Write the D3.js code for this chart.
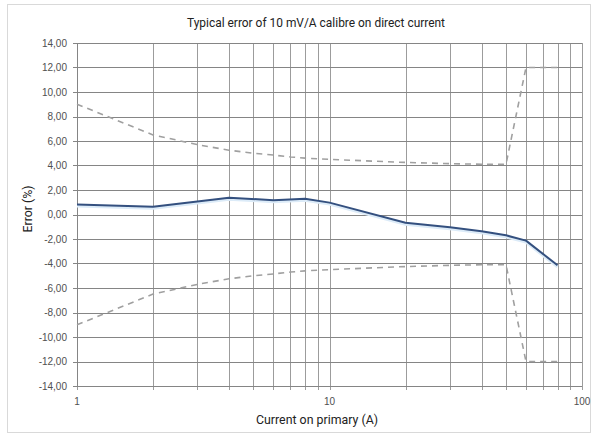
<!DOCTYPE html>
<html><head><meta charset="utf-8">
<script src="https://cdn.jsdelivr.net/npm/d3@7"></script>
<style>
html,body{margin:0;padding:0;background:#fff;}
svg{display:block;}
</style></head>
<body>
<svg id="c" width="595" height="434"></svg>
<script>
const title = "Typical error of 10 mV/A calibre on direct current";
const xTitle = "Current on primary (A)";
const yTitle = "Error (%)";
const measuredX = [1, 2, 4, 6, 8, 10, 20, 30, 40, 50, 60, 80];
const measuredY = [0.82, 0.63, 1.37, 1.17, 1.28, 0.97, -0.68, -1.05, -1.37, -1.7, -2.13, -4.15];
const limitX = [1, 2, 3, 4, 5, 6, 7, 8, 9, 10, 20, 30, 40, 50, 60, 80];
const upperLimit = [9, 6.5, 5.7, 5.25, 5, 4.85, 4.7, 4.6, 4.55, 4.5, 4.25, 4.15, 4.1, 4.1, 12, 12];
const lowerLimit = [-9, -6.5, -5.7, -5.25, -5, -4.85, -4.7, -4.6, -4.55, -4.5, -4.25, -4.15, -4.1, -4.1, -12, -12];
const yTicks = [-14, -12, -10, -8, -6, -4, -2, 0, 2, 4, 6, 8, 10, 12, 14];
const xTickLabels = [1, 10, 100];

const svg = d3.select("#c");
const L = 77, R = 582, T = 43, B = 386;
const x = d3.scaleLog().domain([1, 100]).range([L, R]);
const y = d3.scaleLinear().domain([-14, 14]).range([B, T]);

// outer frame
svg.append("rect").attr("x", 7.5).attr("y", 4.5).attr("width", 583).attr("height", 428)
  .attr("fill", "#fff").attr("stroke", "#d9d9d9");

// vertical grid (log minors)
const vTicks = x.ticks(20);
svg.append("g").selectAll("line").data(vTicks).join("line")
  .attr("x1", d => Math.round(x(d)) + 0.5).attr("x2", d => Math.round(x(d)) + 0.5)
  .attr("y1", T).attr("y2", B + 4)
  .attr("stroke", "#9c9c9c").attr("stroke-width", 1);

// horizontal grid
svg.append("g").selectAll("line").data(yTicks).join("line")
  .attr("x1", L - 4).attr("x2", R)
  .attr("y1", d => Math.round(y(d)) + 0.5).attr("y2", d => Math.round(y(d)) + 0.5)
  .attr("stroke", "#858585").attr("stroke-width", 1);

// axes lines
svg.append("line").attr("x1", L + 0.5).attr("x2", L + 0.5).attr("y1", T).attr("y2", B)
  .attr("stroke", "#858585");
svg.append("line").attr("x1", L).attr("x2", R).attr("y1", B + 0.5).attr("y2", B + 0.5)
  .attr("stroke", "#858585");

// y tick labels
const fmt = d => d.toFixed(2).replace(".", ",");
svg.append("g").selectAll("text").data(yTicks).join("text")
  .attr("x", L - 10).attr("y", d => y(d) + 3.5)
  .attr("text-anchor", "end")
  .attr("font-family", "Liberation Sans, Arial, sans-serif").attr("font-size", 10)
  .attr("fill", "#505050").text(fmt);

// x tick labels
svg.append("g").selectAll("text").data(xTickLabels).join("text")
  .attr("x", d => x(d)).attr("y", 405)
  .attr("text-anchor", "middle")
  .attr("font-family", "Liberation Sans, Arial, sans-serif").attr("font-size", 10)
  .attr("fill", "#505050").text(d => d);

// limits (dashed)
const line = d3.line().x(d => x(d[0])).y(d => y(d[1]));
[upperLimit, lowerLimit].forEach(arr => {
  svg.append("path").datum(limitX.map((v, i) => [v, arr[i]]))
    .attr("d", line).attr("fill", "none")
    .attr("stroke", "#a0a0a0").attr("stroke-width", 1.6)
    .attr("stroke-dasharray", "6,5");
});

// measured (solid)
const mData = measuredX.map((v, i) => [v, measuredY[i]]);
svg.append("path").datum(mData).attr("d", line).attr("fill", "none")
  .attr("stroke", "#dcebf8").attr("stroke-width", 3).attr("stroke-linejoin", "round")
  .attr("transform", "translate(0,1.5)");
svg.append("path").datum(mData).attr("d", line).attr("fill", "none")
  .attr("stroke", "#34507f").attr("stroke-width", 2).attr("stroke-linejoin", "round");

// titles
const tf = "'Roboto', sans-serif";
svg.append("text").attr("x", 316).attr("y", 27).attr("text-anchor", "middle")
  .attr("font-family", tf).attr("font-size", 13).attr("fill", "#222")
  .attr("textLength", 258).attr("lengthAdjust", "spacingAndGlyphs").text(title);
svg.append("text").attr("x", 317).attr("y", 424).attr("text-anchor", "middle")
  .attr("font-family", tf).attr("font-size", 13).attr("fill", "#222")
  .attr("textLength", 122).attr("lengthAdjust", "spacingAndGlyphs").text(xTitle);
svg.append("text").attr("transform", "translate(32,209) rotate(-90)").attr("text-anchor", "middle")
  .attr("font-family", tf).attr("font-size", 13).attr("fill", "#222")
  .attr("textLength", 47).attr("lengthAdjust", "spacingAndGlyphs").text(yTitle);
</script>
</body></html>
